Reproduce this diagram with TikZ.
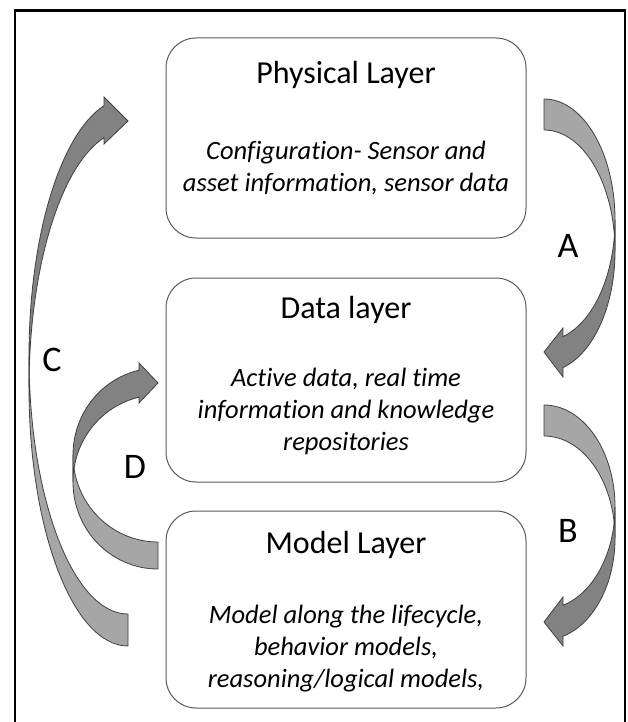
\documentclass[tikz,border=0pt]{standalone}
\usepackage{fontspec}
\setmainfont{Carlito}[Ligatures=NoCommon]
\begin{document}
\begin{tikzpicture}[x=1pt,y=-1pt,
  layerbox/.style={draw=black!65,line width=1pt,rounded corners=30pt,minimum width=360pt,inner sep=0pt},
  titletext/.style={font=\fontsize{32}{38}\selectfont,inner sep=0pt},
  desctext/.style={font=\fontsize{26.5}{32}\selectfont\itshape,align=center,inner sep=0pt},
  lettertext/.style={font=\fontsize{36}{42}\selectfont,inner sep=0pt},
  backband/.style={draw=black!75,line width=0.8pt,fill=black!35,line join=round},
  frontband/.style={draw=black!75,line width=0.8pt,fill=black!49,line join=miter}]
\useasboundingbox (0,0) rectangle (627,722);
\fill[white] (0,0) rectangle (627,722);
% outer frame (open at the bottom)
\draw[line width=2.8pt] (15,722) -- (15,10.5) -- (625,10.5) -- (625,722);

% layer boxes
\node[layerbox,minimum height=200pt] (phys) at (346,138) {};
\node[layerbox,minimum height=204pt] (data) at (346,380) {};
\node[layerbox,minimum height=197pt] (model) at (346,609.5) {};

% texts
\node[titletext] (physT) at (346,75) {Physical Layer};
\node[desctext] (physD) at (346,168) {Configuration- Sensor and\\asset information, sensor data};
\node[titletext] (dataT) at (346,310) {Data layer};
\node[desctext] (dataD) at (346,411) {Active data, real time\\information and knowledge\\repositories};
\node[titletext] (modelT) at (346,545) {Model Layer};
\node[desctext] (modelD) at (346,649) {Model along the lifecycle,\\behavior models,\\reasoning/logical models,};

% curved arrow A (physical -> data)
\draw[backband] (544,99) arc[start angle=-90,end angle=0,x radius=71,y radius=121]
  -- (615,251) arc[start angle=0,end angle=-90,x radius=71,y radius=121] -- cycle;
\draw[frontband] (615,220) arc[start angle=0,end angle=74.5,x radius=71,y radius=121]
  -- (563,328) -- (544,352) -- (563,377) -- (563,367.6)
  arc[start angle=74.5,end angle=0,x radius=71,y radius=121] -- cycle;

% curved arrow B (data -> model)
\draw[backband] (544,405) arc[start angle=-90,end angle=0,x radius=71,y radius=102]
  -- (615,538) arc[start angle=0,end angle=-90,x radius=71,y radius=102] -- cycle;
\draw[frontband] (615,507) arc[start angle=0,end angle=74.5,x radius=71,y radius=102]
  -- (563,597) -- (544,622) -- (563,646) -- (563,636.3)
  arc[start angle=74.5,end angle=0,x radius=71,y radius=102] -- cycle;

% curved arrow C (model -> physical)
\draw[backband] (128,614) arc[start angle=90,end angle=180,x radius=99,y radius=258]
  -- (29,388) arc[start angle=180,end angle=90,x radius=99,y radius=258] -- cycle;
\draw[frontband] (29,356) arc[start angle=180,end angle=256,x radius=99,y radius=258]
  -- (104,97) -- (128,121) -- (104,144) -- (104.05,137.7)
  arc[start angle=256,end angle=180,x radius=99,y radius=258] -- cycle;

% curved arrow D (model -> data)
\draw[backband] (158,542) arc[start angle=90,end angle=180,x radius=85,y radius=87]
  -- (73,482) arc[start angle=180,end angle=90,x radius=85,y radius=87] -- cycle;
\draw[frontband] (73,455) arc[start angle=180,end angle=257.08,x radius=85,y radius=87]
  -- (139,363) -- (158,383) -- (139,403) -- (139,397.2)
  arc[start angle=257.08,end angle=180,x radius=85,y radius=87] -- cycle;

% labels
\node[lettertext] (labA) at (568,246) {A};
\node[lettertext] (labB) at (568,531) {B};
\node[lettertext] (labC) at (52,360) {C};
\node[lettertext] (labD) at (135,467) {D};
\end{tikzpicture}
\end{document}
